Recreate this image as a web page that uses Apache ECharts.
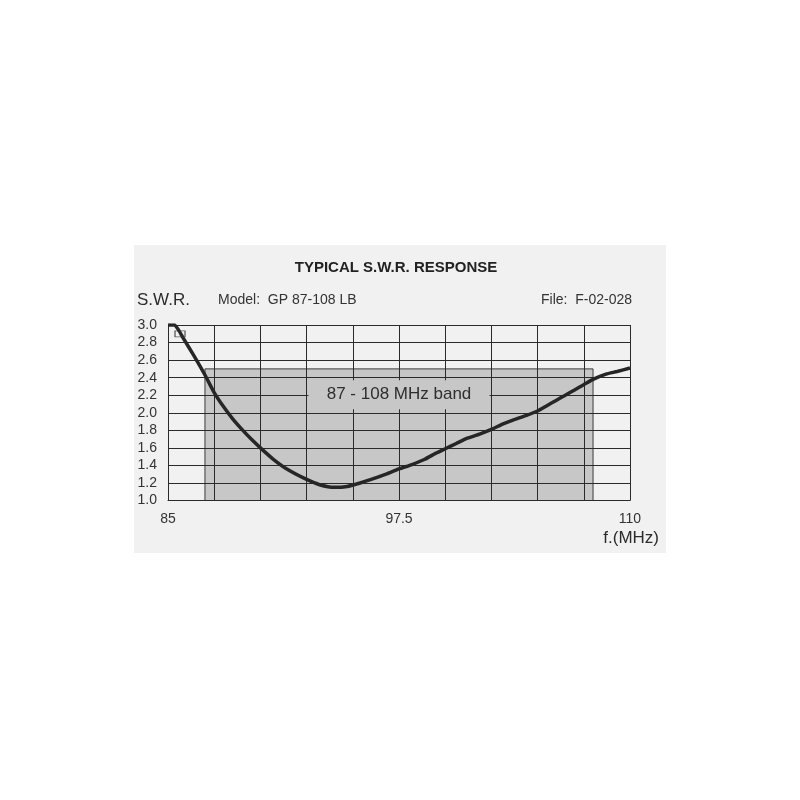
<!DOCTYPE html>
<html>
<head>
<meta charset="utf-8">
<script src="https://cdn.jsdelivr.net/npm/echarts@6/dist/echarts.min.js"></script>
<style>html,body{margin:0;padding:0;background:#fff;}#c{width:800px;height:800px;}</style>
</head>
<body>
<div id="c"></div>
<script>
// ---- data ----
const freqMHz = [85.0, 85.35, 85.55, 85.8, 86.4, 87.0, 87.5, 88.0, 88.5, 89.0, 89.5, 90.0, 90.7, 91.5, 92.5, 93.2, 94.0, 94.7, 95.4, 96.0, 96.8, 97.5, 98.2, 98.9, 99.5, 100.0, 100.6, 101.2, 101.9, 102.5, 103.1, 103.7, 104.4, 105.0, 105.5, 106.0, 106.5, 107.0, 107.5, 108.0, 108.7, 109.3, 110.0];
const swr     = [3.0, 3.0, 2.95, 2.86, 2.65, 2.43, 2.23, 2.07, 1.93, 1.81, 1.70, 1.60, 1.47, 1.35, 1.24, 1.18, 1.15, 1.16, 1.20, 1.24, 1.30, 1.36, 1.41, 1.47, 1.54, 1.59, 1.65, 1.71, 1.76, 1.81, 1.87, 1.92, 1.97, 2.02, 2.08, 2.14, 2.20, 2.26, 2.32, 2.38, 2.44, 2.47, 2.51];
const bandStart = 87, bandEnd = 108, bandTop = 2.5;
const bandLabel = '87 - 108 MHz band';
const xTickLabels = ['85', '97.5', '110'];
const titleText = 'TYPICAL S.W.R. RESPONSE';
const yName = 'S.W.R.';
const modelText = 'Model:  GP 87-108 LB';
const fileText = 'File:  F-02-028';
const xName = 'f.(MHz)';
const markerPoint = [85.65, 2.9];

const curve = freqMHz.map((f, i) => [f, swr[i]]);

const chart = echarts.init(document.getElementById('c'), null, {renderer: 'canvas'});
const txt = '#2b2b2b';
const gridCol = '#2a2a2a';
chart.setOption({
  backgroundColor: '#ffffff',
  animation: false,
  graphic: [
    {type: 'rect', z: -100, silent: true, shape: {x: 134, y: 245, width: 532, height: 308}, style: {fill: '#f1f1f1'}},
    {type: 'text', z: 10, style: {text: titleText, x: 396, y: 268, textAlign: 'center', textVerticalAlign: 'middle', font: 'bold 15px "Liberation Sans", Arial, sans-serif', fill: '#222'}},
    {type: 'text', z: 10, style: {text: yName, x: 137, y: 300, textAlign: 'left', textVerticalAlign: 'middle', font: '17px "Liberation Sans", Arial, sans-serif', fill: txt}},
    {type: 'text', z: 10, style: {text: modelText, x: 218, y: 300, textAlign: 'left', textVerticalAlign: 'middle', font: '14px "Liberation Sans", Arial, sans-serif', fill: '#333'}},
    {type: 'text', z: 10, style: {text: fileText, x: 632, y: 300, textAlign: 'right', textVerticalAlign: 'middle', font: '14px "Liberation Sans", Arial, sans-serif', fill: '#333'}},
    {type: 'text', z: 10, style: {text: xName, x: 659, y: 538, textAlign: 'right', textVerticalAlign: 'middle', font: '17px "Liberation Sans", Arial, sans-serif', fill: txt}}
  ],
  grid: {left: 168, right: 170, top: 325, bottom: 299.5, show: false},
  xAxis: {
    type: 'value', min: 85, max: 110, interval: 2.5, z: 2,
    axisLine: {show: true, lineStyle: {color: gridCol, width: 1}},
    axisTick: {show: false},
    axisLabel: {
      margin: 12, fontSize: 14, color: '#333', fontFamily: '"Liberation Sans", Arial, sans-serif',
      showMinLabel: true, showMaxLabel: true,
      formatter: v => { const s = String(+v.toFixed(1)); return xTickLabels.includes(s) ? s : ''; }
    },
    splitLine: {show: true, showMinLine: true, showMaxLine: true, lineStyle: {color: gridCol, width: 1}}
  },
  yAxis: {
    type: 'value', min: 1, max: 3, interval: 0.2, z: 2,
    axisLine: {show: true, lineStyle: {color: gridCol, width: 1}},
    axisTick: {show: false},
    axisLabel: {margin: 11, fontSize: 14, color: '#333', fontFamily: '"Liberation Sans", Arial, sans-serif',
      formatter: v => (+v).toFixed(1)},
    splitLine: {show: true, showMinLine: true, showMaxLine: true, lineStyle: {color: gridCol, width: 1}}
  },
  series: [
    {
      type: 'line', z: 1, silent: true, symbol: 'none',
      data: [[bandStart, 1], [bandEnd, bandTop]], lineStyle: {opacity: 0},
      markArea: {
        z: 1, silent: true,
        itemStyle: {color: '#c7c7c7', borderColor: '#3a3a3a', borderWidth: 1},
        data: [[{xAxis: bandStart, yAxis: 1}, {xAxis: bandEnd, yAxis: bandTop}]]
      }
    },
    {
      type: 'line', z: 3, silent: true, symbol: 'none',
      data: [[92.6, 2.04], [102.4, 2.37]], lineStyle: {opacity: 0},
      markArea: {
        z: 3, silent: true,
        itemStyle: {color: '#c7c7c7', borderWidth: 0},
        label: {show: true, position: 'inside', formatter: bandLabel, fontSize: 17, color: '#2e2e2e', fontFamily: '"Liberation Sans", Arial, sans-serif'},
        data: [[{xAxis: 92.6, yAxis: 2.04}, {xAxis: 102.4, yAxis: 2.37}]]
      }
    },
    {
      type: 'line', z: 4, data: curve, smooth: 0.2, symbol: 'none', clip: true,
      lineStyle: {color: '#262626', width: 3.5}
    },
    {
      type: 'scatter', z: 4, data: [markerPoint], symbol: 'rect', symbolSize: [10, 6], silent: true,
      itemStyle: {color: 'rgba(0,0,0,0)', borderColor: '#333', borderWidth: 1}
    }
  ]
});
</script>
</body>
</html>
